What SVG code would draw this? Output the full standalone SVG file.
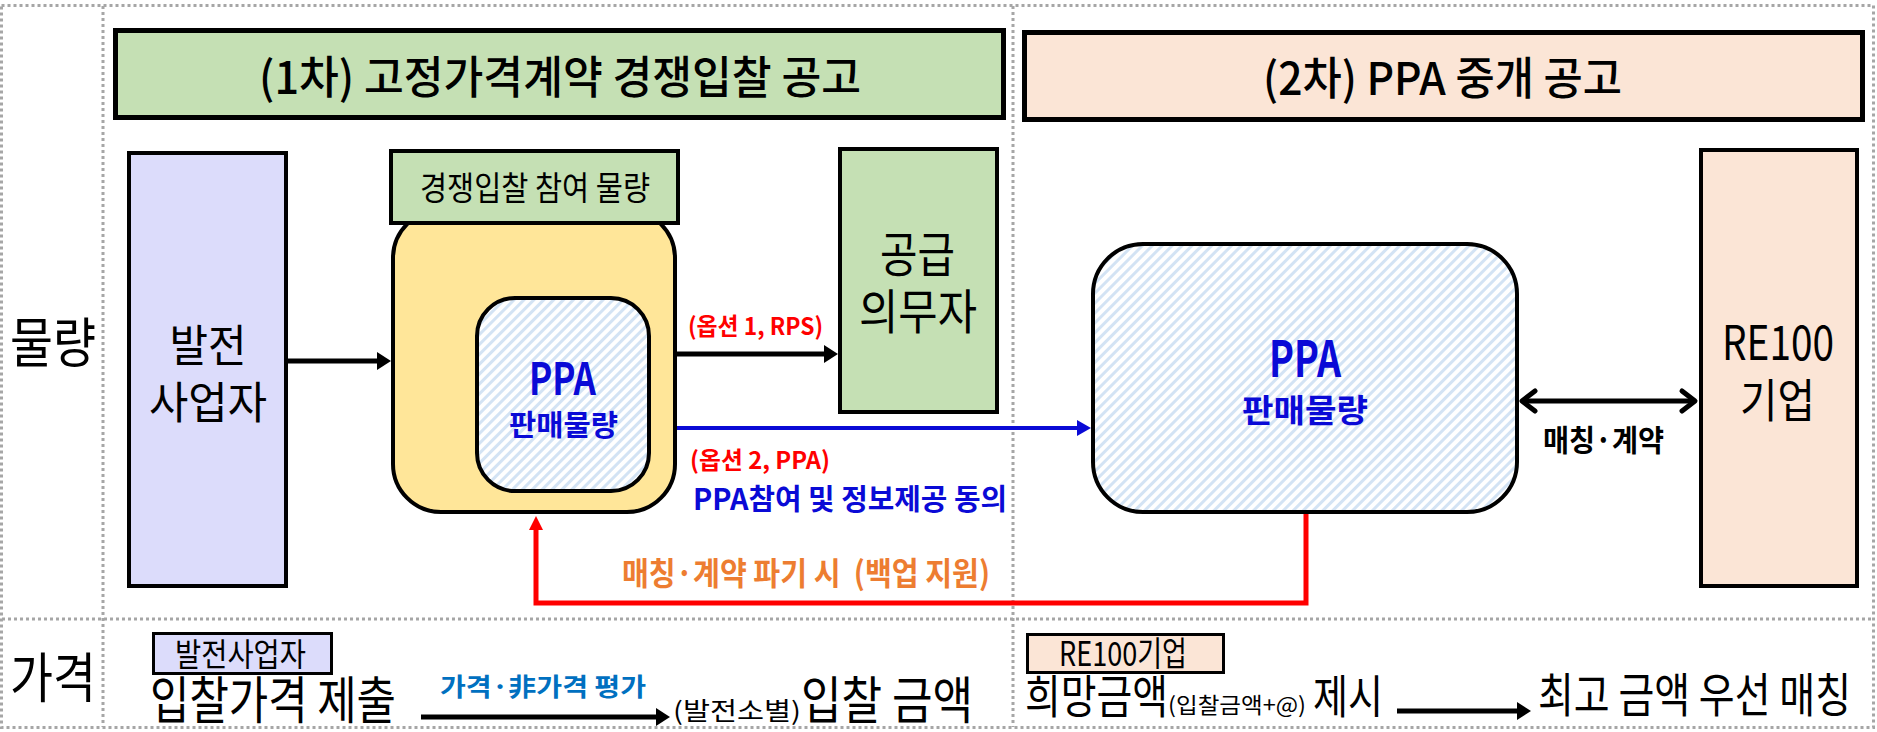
<svg xmlns="http://www.w3.org/2000/svg" width="1877" height="732" viewBox="0 0 1877 732">
<style>
.t{font-family:"Noto Sans CJK KR","Noto Sans",sans-serif;fill:#000;}
.b{font-weight:700;}
.m{font-weight:500;}
.dash{fill:none;stroke:#a6a6a6;stroke-width:3;stroke-dasharray:3 3;}
.box{stroke:#000;stroke-width:4;}
.blue{fill:#0a0ad6;}
.red{fill:#ff0000;}
</style>
<defs>
<pattern id="hatch" patternUnits="userSpaceOnUse" width="7" height="7" patternTransform="rotate(45)">
<rect width="7" height="7" fill="#ffffff"/>
<rect x="0" y="0" width="3" height="7" fill="#d3e3f4"/>
</pattern>
<marker id="ah" markerUnits="userSpaceOnUse" viewBox="0 0 14 18" refX="0" refY="9" markerWidth="14" markerHeight="18" orient="auto">
<path d="M0,0 L14,9 L0,18 z" fill="#000"/>
</marker>
<marker id="ahb" markerUnits="userSpaceOnUse" viewBox="0 0 14 16" refX="0" refY="8" markerWidth="14" markerHeight="16" orient="auto">
<path d="M0,0 L14,8 L0,16 z" fill="#0a0ad6"/>
</marker>
<marker id="ahr" markerUnits="userSpaceOnUse" viewBox="0 0 14 14" refX="0" refY="7" markerWidth="14" markerHeight="14" orient="auto">
<path d="M0,0 L14,7 L0,14 z" fill="#ff0000"/>
</marker>
<marker id="chev" markerUnits="userSpaceOnUse" viewBox="0 0 16 22" refX="14" refY="11" markerWidth="16" markerHeight="22" orient="auto-start-reverse" overflow="visible">
<path d="M1,1 L14,11 L1,21" fill="none" stroke="#000" stroke-width="5" stroke-linejoin="round" stroke-linecap="round"/>
</marker>
</defs>

<g id="frame">
<rect class="dash" x="1.5" y="5.5" width="1872" height="722"/>
<line class="dash" x1="103" y1="6" x2="103" y2="727"/>
<line class="dash" x1="1013" y1="6" x2="1013" y2="727"/>
<line class="dash" x1="2" y1="619" x2="1873" y2="619"/>
</g>

<g id="row-labels">
<text class="t" x="10" y="363" font-size="54" textLength="86" lengthAdjust="spacingAndGlyphs">물량</text>
<text class="t" x="10" y="698" font-size="54" textLength="86" lengthAdjust="spacingAndGlyphs">가격</text>
</g>

<g id="header1">
<rect x="115.5" y="30.5" width="888" height="87" fill="#c5e0b4" stroke="#000" stroke-width="5"/>
<text class="t m" x="259" y="94" font-size="45" textLength="602" lengthAdjust="spacingAndGlyphs">(1차) 고정가격계약 경쟁입찰 공고</text>
</g>

<g id="header2">
<rect x="1024.5" y="32.5" width="838" height="87" fill="#fbe5d6" stroke="#000" stroke-width="5"/>
<text class="t m" x="1263" y="95" font-size="45" textLength="359" lengthAdjust="spacingAndGlyphs">(2차) PPA 중개 공고</text>
</g>

<g id="node-generator">
<rect class="box" x="129" y="153" width="157" height="433" fill="#dcdcfb"/>
<text class="t" x="169.5" y="362" font-size="44" textLength="77" lengthAdjust="spacingAndGlyphs">발전</text>
<text class="t" x="149" y="419" font-size="44" textLength="118" lengthAdjust="spacingAndGlyphs">사업자</text>
</g>

<g id="node-bid-volume">
<rect class="box" x="393" y="210" width="282" height="302" rx="48" ry="48" fill="#ffe699"/>
<rect class="box" x="391" y="151" width="287" height="72" fill="#c5e0b4"/>
<text class="t" x="420" y="200" font-size="33" textLength="230" lengthAdjust="spacingAndGlyphs">경쟁입찰 참여 물량</text>
<rect class="box" x="477" y="298" width="172" height="193" rx="38" ry="38" fill="url(#hatch)"/>
<text class="t b blue" x="529" y="395" font-size="44" textLength="67" lengthAdjust="spacingAndGlyphs">PPA</text>
<text class="t b blue" x="509" y="436" font-size="29" textLength="109" lengthAdjust="spacingAndGlyphs">판매물량</text>
</g>

<g id="node-supplier">
<rect class="box" x="840" y="149" width="157" height="263" fill="#c5e0b4"/>
<text class="t" x="880" y="272" font-size="48" textLength="75" lengthAdjust="spacingAndGlyphs">공급</text>
<text class="t" x="859" y="329" font-size="48" textLength="118" lengthAdjust="spacingAndGlyphs">의무자</text>
</g>

<g id="node-ppa">
<rect class="box" x="1093" y="244" width="424" height="268" rx="50" ry="50" fill="url(#hatch)"/>
<text class="t b blue" x="1269" y="377" font-size="50" textLength="72" lengthAdjust="spacingAndGlyphs">PPA</text>
<text class="t b blue" x="1242" y="422" font-size="32" textLength="126" lengthAdjust="spacingAndGlyphs">판매물량</text>
</g>

<g id="node-re100">
<rect class="box" x="1701" y="150" width="156" height="436" fill="#fbe5d6"/>
<text class="t" x="1722" y="360" font-size="48" textLength="112" lengthAdjust="spacingAndGlyphs">RE100</text>
<text class="t" x="1740" y="417" font-size="46" textLength="75" lengthAdjust="spacingAndGlyphs">기업</text>
</g>

<g id="connectors">
<line x1="288" y1="361" x2="377" y2="361" stroke="#000" stroke-width="5" marker-end="url(#ah)"/>
<line x1="677" y1="354" x2="824" y2="354" stroke="#000" stroke-width="5" marker-end="url(#ah)"/>
<line x1="677" y1="428" x2="1077" y2="428" stroke="#0a0ad6" stroke-width="4" marker-end="url(#ahb)"/>
<line x1="1522" y1="401" x2="1695" y2="401" stroke="#000" stroke-width="5" marker-start="url(#chev)" marker-end="url(#chev)"/>
<path d="M1306,514 V603 H536 V530" fill="none" stroke="#ff0000" stroke-width="5" marker-end="url(#ahr)"/>
<line x1="421" y1="717" x2="656" y2="717" stroke="#000" stroke-width="5" marker-end="url(#ah)"/>
<line x1="1397" y1="711" x2="1517" y2="711" stroke="#000" stroke-width="5" marker-end="url(#ah)"/>
</g>

<g id="connector-labels">
<text class="t b red" x="688" y="335" font-size="24" textLength="135" lengthAdjust="spacingAndGlyphs">(옵션 1, RPS)</text>
<text class="t b red" x="690" y="469" font-size="24" textLength="140" lengthAdjust="spacingAndGlyphs">(옵션 2, PPA)</text>
<text class="t b blue" x="693" y="510" font-size="29" textLength="314" lengthAdjust="spacingAndGlyphs">PPA참여 및 정보제공 동의</text>
<text class="t b" x="1543" y="451" font-size="30" textLength="121" lengthAdjust="spacingAndGlyphs">매칭·계약</text>
<text class="t b" x="622" y="585" font-size="32" textLength="368" lengthAdjust="spacingAndGlyphs" style="fill:#ed7d31" xml:space="preserve">매칭·계약 파기 시  (백업 지원)</text>
<text class="t b" x="440" y="696" font-size="25" textLength="206" lengthAdjust="spacingAndGlyphs" style="fill:#0070c0">가격·非가격 평가</text>
</g>

<g id="price-generator">
<rect x="153.5" y="633.5" width="178" height="40" fill="#dcdcfb" stroke="#000" stroke-width="3"/>
<text class="t" x="175" y="666" font-size="32" textLength="131" lengthAdjust="spacingAndGlyphs">발전사업자</text>
<text class="t" x="150" y="719" font-size="51" textLength="246" lengthAdjust="spacingAndGlyphs">입찰가격 제출</text>
<text class="t" x="673" y="720" font-size="25" textLength="128" lengthAdjust="spacingAndGlyphs">(발전소별)</text>
<text class="t" x="801" y="719" font-size="51" textLength="172" lengthAdjust="spacingAndGlyphs">입찰 금액</text>
</g>

<g id="price-re100">
<rect x="1027.5" y="634.5" width="196" height="38" fill="#fbe5d6" stroke="#000" stroke-width="3"/>
<text class="t" x="1059" y="666" font-size="34" textLength="128" lengthAdjust="spacingAndGlyphs">RE100기업</text>
<text class="t" x="1025" y="713" font-size="46" textLength="143" lengthAdjust="spacingAndGlyphs">희망금액</text>
<text class="t" x="1168" y="713" font-size="22" textLength="138" lengthAdjust="spacingAndGlyphs">(입찰금액+@)</text>
<text class="t" x="1313" y="713" font-size="46" textLength="70" lengthAdjust="spacingAndGlyphs">제시</text>
<text class="t" x="1538" y="712" font-size="47" textLength="313" lengthAdjust="spacingAndGlyphs">최고 금액 우선 매칭</text>
</g>
</svg>
